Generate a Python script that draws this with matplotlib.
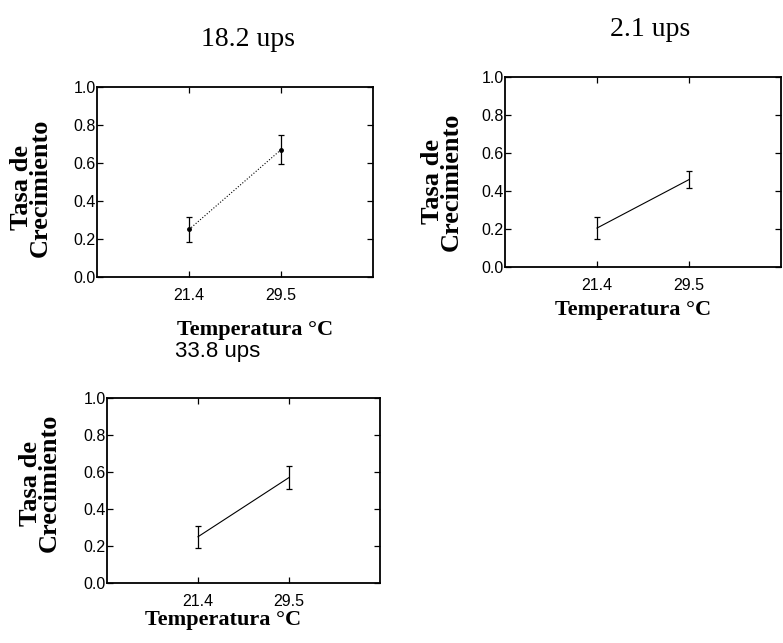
import numpy as np
import matplotlib.pyplot as plt

# Datos
temperaturas = ["21.4", "29.5"]
titulos = ["18.2 ups", "2.1 ups", "33.8 ups"]
tasa_182 = [0.25, 0.67]
error_182 = [0.065, 0.075]
tasa_21 = [0.205, 0.46]
error_21 = [0.06, 0.045]
tasa_338 = [0.25, 0.57]
error_338 = [0.06, 0.06]

W, H = 783, 643
fig = plt.figure(figsize=(W / 100, H / 100), dpi=100)


def caja(izq, der, arriba, abajo):
    # pixeles -> coordenadas de figura
    return [izq / W, (H - abajo) / H, (der - izq) / W, (abajo - arriba) / H]


def texto(x, y, s, **kw):
    fig.text(x / W, (H - y) / H, s, ha='center', va='center', **kw)


def panel(rect, tasa, error, estilo):
    ax = fig.add_axes(rect)
    x = np.arange(1, len(temperaturas) + 1)
    ax.errorbar(x, tasa, yerr=error, color='black', linestyle=estilo, linewidth=0.8,
                marker='o' if estilo == ':' else None, markersize=2.5,
                capsize=2.5, elinewidth=0.9, capthick=0.9)
    ax.set_xlim(0, 3)
    ax.set_ylim(0, 1)
    ax.set_xticks(x)
    ax.set_xticklabels(temperaturas)
    ax.set_yticks([0.0, 0.2, 0.4, 0.6, 0.8, 1.0])
    ax.set_yticklabels(["0.0", "0.2", "0.4", "0.6", "0.8", "1.0"])
    ax.tick_params(direction='in', top=True, right=True, length=4, width=0.9,
                   labelsize=11.5)
    ax.tick_params(axis='x', pad=8)
    ax.tick_params(axis='y', pad=1)
    for lab in ax.get_xticklabels() + ax.get_yticklabels():
        lab.set_family('Liberation Sans')
    for s in ax.spines.values():
        s.set_linewidth(1.3)
    return ax


panel(caja(97, 373, 87, 277), tasa_182, error_182, ':')
panel(caja(505, 781, 77, 267), tasa_21, error_21, '-')
panel(caja(107, 380, 398, 583), tasa_338, error_338, '-')

serif = dict(family='Liberation Serif')
texto(248, 40, titulos[0], fontsize=20, **serif)
texto(650, 30, titulos[1], fontsize=20, **serif)
texto(218, 352, titulos[2], fontsize=16, family='Liberation Sans')

ylab = "Tasa de\nCrecimiento"
texto(31, 188, ylab, fontsize=19, fontweight='bold', rotation=90, linespacing=0.8, **serif)
texto(442, 182, ylab, fontsize=19, fontweight='bold', rotation=90, linespacing=0.8, **serif)
texto(40, 483, ylab, fontsize=19, fontweight='bold', rotation=90, linespacing=0.8, **serif)

xlab = "Temperatura °C"
texto(255, 330, xlab, fontsize=16, fontweight='bold', **serif)
texto(633, 310, xlab, fontsize=16, fontweight='bold', **serif)
texto(223, 620, xlab, fontsize=16, fontweight='bold', **serif)

fig.savefig("out.png", dpi=100)
